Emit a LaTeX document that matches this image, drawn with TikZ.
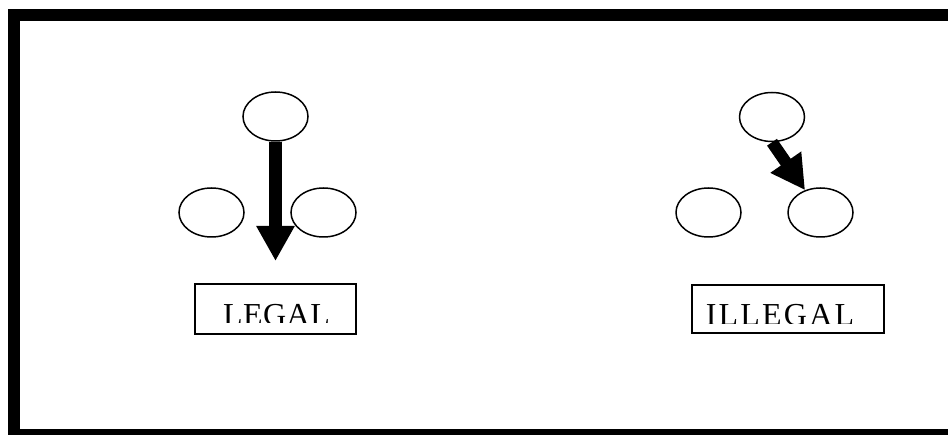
\documentclass[tikz,border=0pt]{standalone}
\usepackage{fontspec}
\setmainfont{Liberation Serif}
\usetikzlibrary{shapes.geometric,arrows.meta}
\tikzset{
  oval/.style={ellipse,draw,line width=1.5pt,minimum width=65pt,minimum height=49pt,inner sep=0pt},
  labelbox/.style={rectangle,draw,line width=1.5pt,inner sep=0pt},
  labeltext/.style={anchor=base,inner sep=0pt,font=\fontsize{32pt}{36pt}\selectfont},
  bigarrow/.style={line width=12.5pt,-{Triangle[length=35pt,width=36pt]}},
  frame/.style={line width=12pt}
}
\begin{document}
\begin{tikzpicture}[x=1pt,y=-1pt]
\useasboundingbox (0,0) rectangle (948,435);
\begin{scope}
\clip (0,0) rectangle (948,435);
\draw[frame] (14,15) rectangle (953.5,435);
\end{scope}
% LEGAL
\node[oval] (ta) at (275.5,116.5) {};
\node[oval] (la) at (211.5,212.5) {};
\node[oval] (ra) at (323.5,212.5) {};
\coordinate (tipA) at (275.5,261);
\draw[bigarrow] (ta.south) -- (tipA);
\node[labelbox,minimum width=161pt,minimum height=50pt] (boxA) at (275.5,309) {};
\begin{scope}
\clip (195,284) rectangle (356,322.5);
\node[labeltext] (txtA) at (276.5,326) {\addfontfeature{LetterSpace=1.5}LEGAL};
\end{scope}
% ILLEGAL
\node[oval] (tb) at (772,117) {};
\node[oval] (lb) at (708.5,212.5) {};
\node[oval] (rb) at (820.5,212.5) {};
\draw[bigarrow,line width=12pt,-{Triangle[length=34pt,width=35pt]}] (tb.south) -- (rb);
\node[labelbox,minimum width=192pt,minimum height=48pt] (boxB) at (788,309) {};
\begin{scope}
\clip (692,285) rectangle (884,323.5);
\node[labeltext] (txtB) at (780,326) {\addfontfeature{LetterSpace=7}ILLEGAL};
\end{scope}
\end{tikzpicture}
\end{document}
